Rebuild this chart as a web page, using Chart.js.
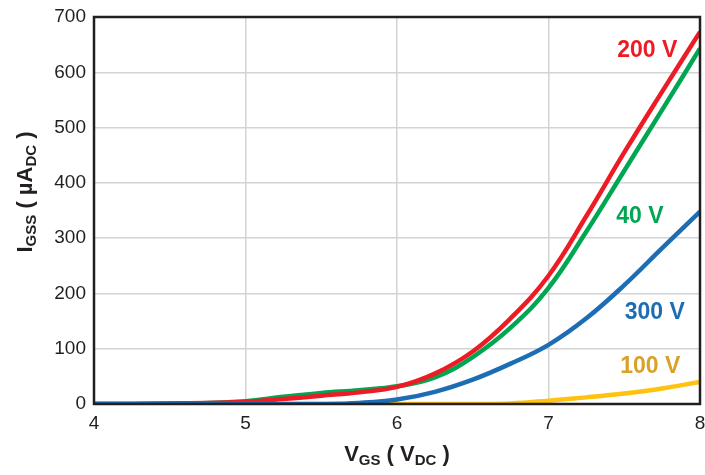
<!DOCTYPE html>
<html>
<head>
<meta charset="utf-8">
<script src="https://cdn.jsdelivr.net/npm/chart.js@4"></script>
<style>
  html, body { margin: 0; padding: 0; background: #fff; }
  #wrap { width: 705px; height: 475px; }
</style>
</head>
<body>
<div id="wrap"><canvas id="ig"></canvas></div>
<script>
// gate voltage, V
const vgs = [4, 4.25, 4.5, 4.75, 5, 5.25, 5.5, 5.75, 6, 6.25, 6.5, 6.75, 7, 7.25, 7.5, 7.75, 8];

// gate leakage current, uA, one curve per drain voltage
const i300 = [0, 0, 0, 0, 0, 0, 0, 2, 8, 22, 44, 73, 107, 155, 215, 282, 348];
const i200 = [0, 0, 1, 2, 4, 9, 15, 21, 31, 55, 95, 155, 232, 340, 455, 565, 673];
const i40 = [0, 0, 1, 2, 5, 13, 20, 25, 32, 48, 85, 138, 210, 312, 422, 532, 643];
const i100 = [0, 0, 0, 0, 0, 0, 0, 0, 0, 0, 0, 1, 6, 12, 19, 28, 40];

const xTicks = [4, 5, 6, 7, 8];
const yTicks = [0, 100, 200, 300, 400, 500, 600, 700];

// curve labels placed in data units (right edge, middle)
const tagText = ['200 V', '40 V', '300 V', '100 V'];
const tagX = [7.85, 7.76, 7.9, 7.87];
const tagY = [640, 338, 165, 67];
const tagColor = ['#ed1c24', '#00a651', '#1d6db5', '#d9a128'];

const ink = '#231f20';

function pts(ys) {
    return vgs.map((x, i) => ({ x: x, y: ys[i] }));
}

function line(label, ys, color) {
    return {
        label: label,
        data: pts(ys),
        borderColor: color,
        backgroundColor: color,
        borderWidth: 4.5,
        pointRadius: 0,
        tension: 0.4,
        fill: false
    };
}

// draws text with a subscript part: [[text, sub], ...]
function richWidth(ctx, parts, big, small) {
    let w = 0;
    parts.forEach(p => {
        ctx.font = 'bold ' + (p[1] ? small : big) + 'px "Liberation Sans", Arial, sans-serif';
        w += ctx.measureText(p[0]).width;
    });
    return w;
}

function richDraw(ctx, parts, x, y, big, small) {
    parts.forEach(p => {
        ctx.font = 'bold ' + (p[1] ? small : big) + 'px "Liberation Sans", Arial, sans-serif';
        ctx.fillText(p[0], x, p[1] ? y + 4 : y);
        x += ctx.measureText(p[0]).width;
    });
}

const extras = {
    id: 'extras',
    afterDatasetsDraw(chart) {
        const ctx = chart.ctx;
        const a = chart.chartArea;
        const xs = chart.scales.x, ys = chart.scales.y;
        ctx.save();

        // frame
        ctx.strokeStyle = ink;
        ctx.lineWidth = 2.5;
        ctx.strokeRect(a.left, a.top, a.right - a.left, a.bottom - a.top);

        // curve tags
        ctx.font = 'bold 23px "Liberation Sans", Arial, sans-serif';
        ctx.textAlign = 'right';
        ctx.textBaseline = 'middle';
        tagText.forEach((t, i) => {
            ctx.fillStyle = tagColor[i];
            ctx.fillText(t, xs.getPixelForValue(tagX[i]), ys.getPixelForValue(tagY[i]));
        });

        // axis titles with subscripts
        ctx.fillStyle = ink;
        ctx.textAlign = 'left';
        ctx.textBaseline = 'alphabetic';
        const xt = [['V', 0], ['GS', 1], [' ( V', 0], ['DC', 1], [' )', 0]];
        const wx = richWidth(ctx, xt, 22, 15);
        richDraw(ctx, xt, 397 - wx / 2, 461, 22, 15);

        const yt = [['I', 0], ['GSS', 1], [' ( \u00b5A', 0], ['DC', 1], [' )', 0]];
        const wy = richWidth(ctx, yt, 22, 15);
        ctx.translate(32, 192);
        ctx.rotate(-Math.PI / 2);
        richDraw(ctx, yt, -wy / 2, 0, 22, 15);
        ctx.restore();
    }
};

new Chart(document.getElementById('ig'), {
    type: 'line',
    data: {
        datasets: [
            line('300 V', i300, '#1d6db5'),
            line('200 V', i200, '#ed1c24'),
            line('40 V', i40, '#00a651'),
            line('100 V', i100, '#ffc20e')
        ]
    },
    options: {
        responsive: true,
        maintainAspectRatio: false,
        animation: false,
        layout: { padding: { top: 17, right: 5, left: 0, bottom: 0 } },
        plugins: {
            legend: { display: false },
            tooltip: { enabled: false }
        },
        scales: {
            x: {
                type: 'linear',
                min: 4,
                max: 8,
                afterBuildTicks: s => { s.ticks = xTicks.map(v => ({ value: v })); },
                afterFit: s => { s.height = 71; s.paddingLeft = 0; s.paddingRight = 0; },
                ticks: {
                    color: ink,
                    padding: 8,
                    font: { family: '"Liberation Sans", Arial, sans-serif', size: 19 }
                },
                grid: { color: '#d3d3d3', lineWidth: 1.5, drawTicks: false },
                border: { display: false }
            },
            y: {
                min: 0,
                max: 700,
                afterBuildTicks: s => { s.ticks = yTicks.map(v => ({ value: v })); },
                afterFit: s => { s.width = 94; s.paddingTop = 0; s.paddingBottom = 0; },
                ticks: {
                    color: ink,
                    padding: 8,
                    font: { family: '"Liberation Sans", Arial, sans-serif', size: 19 }
                },
                grid: { color: '#d3d3d3', lineWidth: 1.5, drawTicks: false },
                border: { display: false }
            }
        }
    },
    plugins: [extras]
});
</script>
</body>
</html>
